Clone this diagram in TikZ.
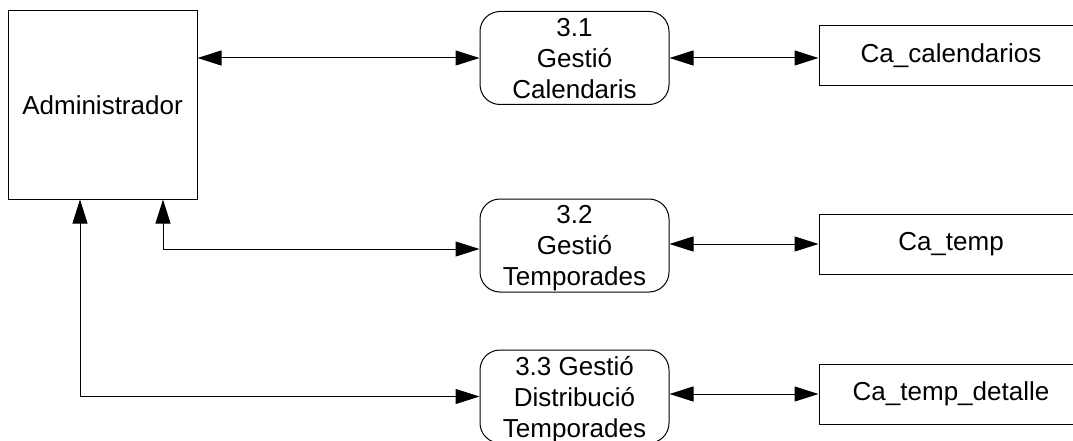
\documentclass[tikz,border=0pt]{standalone}
\usepackage{fontspec}
\setmainfont{Liberation Sans}
\usetikzlibrary{arrows.meta}
\begin{document}
\begin{tikzpicture}[x=1pt,y=-1pt,
  every node/.style={font=\fontsize{26}{31}\selectfont, inner sep=0pt, align=center},
  entity/.style={draw, line width=1pt, minimum width=189pt, minimum height=188pt},
  proc/.style={draw, line width=1pt, rounded corners=20pt, minimum width=189pt, minimum height=93pt, text depth=0pt},
  store/.style={draw, line width=1pt, minimum width=264pt, minimum height=60pt},
  flow/.style={line width=1pt, {Triangle[length=24pt,width=15pt]}-{Triangle[length=24pt,width=15pt]}}
]
\useasboundingbox (0,0) rectangle (1073,441);
\clip (0,0) rectangle (1073,441);
\node[entity] (A) at (102.5,105) {Administrador};
\node[proc] (P1) at (574.5,58) {3.1\\Gestió\\Calendaris};
\node[proc] (P2) at (574.5,245.5) {3.2\\Gestió\\Temporades};
\node[proc] (P3) at (574.5,396.5) {3.3 Gestió\\Distribució\\Temporades};
\node[store] (S1) at (951,56) {Ca\_calendarios};
\node[store] (S2) at (951,244) {Ca\_temp};
\node[store] (S3) at (951,394) {Ca\_temp\_detalle};
\draw[flow] (P1.west -| A.east) -- (P1.west);
\draw[flow] (P1.east) -- (P1.east -| S1.west);
\draw[flow] (S2.west -| P2.east) -- (S2.west);
\draw[flow] (S3.west -| P3.east) -- (S3.west);
\draw[flow] ([xshift=60.5pt]A.south) |- ([yshift=-3.5pt]P2.west);
\draw[flow] ([xshift=-22.5pt]A.south) |- (P3.west);
\end{tikzpicture}
\end{document}
